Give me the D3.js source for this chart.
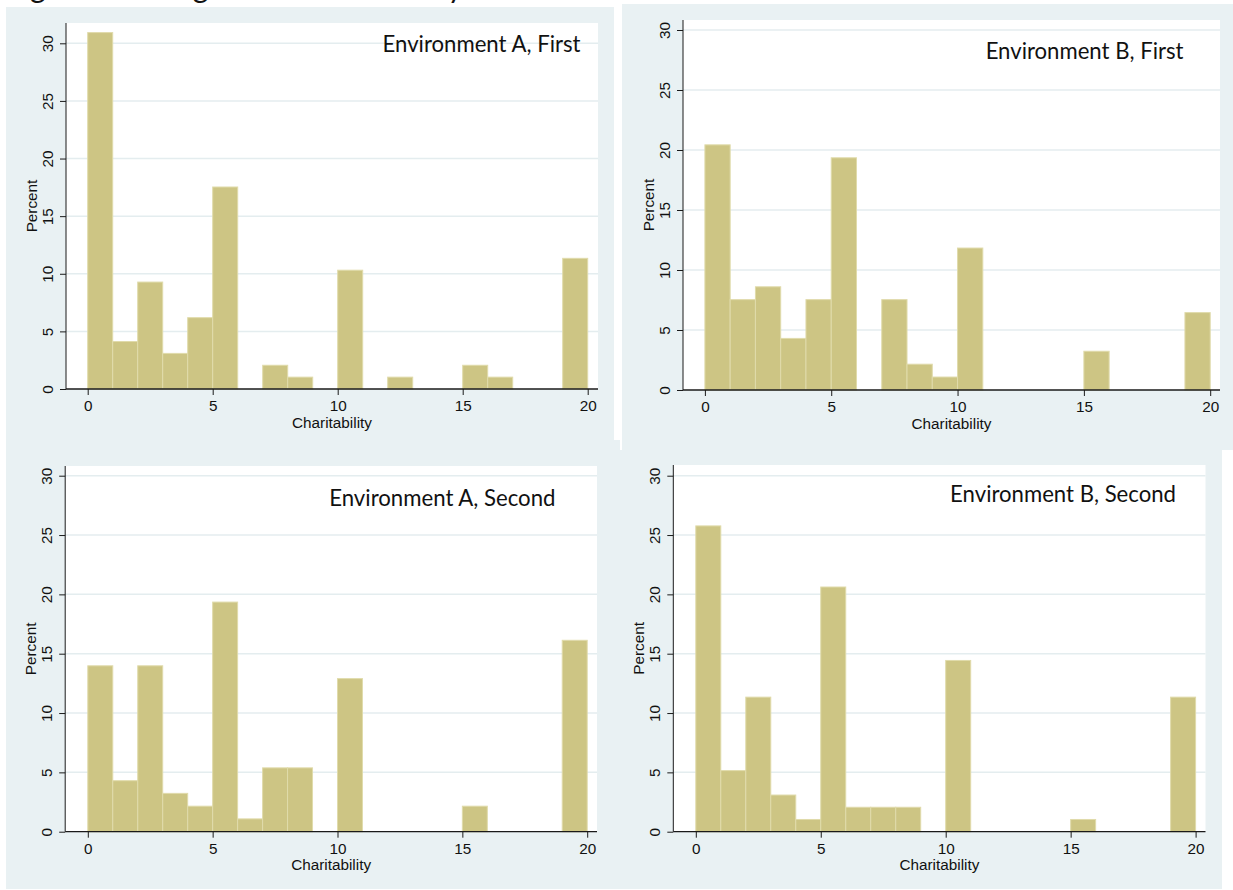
<!DOCTYPE html>
<html>
<head>
<meta charset="utf-8">
<script src="https://cdn.jsdelivr.net/npm/d3@7"></script>
<style>
  html, body { margin: 0; padding: 0; background: #ffffff; }
  svg { display: block; }
</style>
</head>
<body>
<svg id="chart" width="1233" height="890"></svg>
<script>
// Histogram bins: left edges of the unit-width charitability bins (0–20)
const binStarts = [0, 1, 2, 3, 4, 5, 6, 7, 8, 9, 10, 11, 12, 13, 14, 15, 16, 17, 18, 19];

// Percent of subjects in each bin
const envAFirst  = [30.93, 4.12, 9.28, 3.09, 6.19, 17.53, 0, 2.06, 1.03, 0, 10.31, 0, 1.03, 0, 0, 2.06, 1.03, 0, 0, 11.34];
const envBFirst  = [20.43, 7.53, 8.60, 4.30, 7.53, 19.35, 0, 7.53, 2.15, 1.08, 11.83, 0, 0, 0, 0, 3.23, 0, 0, 0, 6.45];
const envASecond = [13.98, 4.30, 13.98, 3.23, 2.15, 19.35, 1.08, 5.38, 5.38, 0, 12.90, 0, 0, 0, 0, 2.15, 0, 0, 0, 16.13];
const envBSecond = [25.77, 5.15, 11.34, 3.09, 1.03, 20.62, 2.06, 2.06, 2.06, 0, 14.43, 0, 0, 0, 0, 1.03, 0, 0, 0, 11.34];

const panelTitles = ["Environment A, First", "Environment B, First", "Environment A, Second", "Environment B, Second"];
const xTicks = [0, 5, 10, 15, 20];
const yTicks = [0, 5, 10, 15, 20, 25, 30];
const xLabel = "Charitability";
const yLabel = "Percent";
const figureCaption = "Figure 2: Histograms of Charitability";

// Frame geometry of each graph: background box, plot region, where the
// axis scales map their domain ends, and the box the title is fitted into.
const panels = [
  { values: envAFirst,  title: panelTitles[0],
    bg: [6, 7, 614, 450],  plot: [66, 23, 598, 389],
    xr: [87.7, 587.7],  yr: [389, 43.3],
    titleLeft: 382.5, titleRight: 580.5, titleBase: 52 },
  { values: envBFirst,  title: panelTitles[1],
    bg: [622, 4, 1233, 450], plot: [683, 20, 1220, 390],
    xr: [704.9, 1210.2], yr: [390, 30],
    titleLeft: 985.5, titleRight: 1183.5, titleBase: 59 },
  { values: envASecond, title: panelTitles[2],
    bg: [6, 440, 620, 889], plot: [65.2, 466, 597, 831.7],
    xr: [87.8, 587.2],  yr: [831.7, 475.7],
    titleLeft: 329, titleRight: 555.5, titleBase: 506 },
  { values: envBSecond, title: panelTitles[3],
    bg: [614, 450, 1222, 889], plot: [673.3, 465, 1205.5, 831.7],
    xr: [695.8, 1195.6], yr: [831.7, 475.7],
    titleLeft: 950, titleRight: 1176, titleBase: 502 }
];

const COLORS = {
  region: "#e9f1f3",
  plot: "#ffffff",
  grid: "#e4edef",
  bar: "#cdc584",
  barEdge: "#e0dbab",
  axis: "#1a1a1a",
  text: "#111111"
};
const tickFont = "'Liberation Sans', Arial, sans-serif";
const titleFont = "Lato, 'Open Sans', sans-serif";

const svg = d3.select("#chart");

// Figure caption running off the top edge of the page
svg.append("text")
  .attr("x", 7).attr("y", -2)
  .attr("font-family", titleFont)
  .attr("font-size", 30)
  .attr("fill", COLORS.text)
  .attr("textLength", 456)
  .attr("lengthAdjust", "spacing")
  .text(figureCaption);

// Graph region backgrounds first so the boxes overlap cleanly
panels.forEach(p => {
  svg.append("rect")
    .attr("x", p.bg[0]).attr("y", p.bg[1])
    .attr("width", p.bg[2] - p.bg[0]).attr("height", p.bg[3] - p.bg[1])
    .attr("fill", COLORS.region);
});

panels.forEach(p => {
  const g = svg.append("g");
  const [px0, py0, px1, py1] = p.plot;

  const x = d3.scaleLinear().domain([0, 20]).range(p.xr);
  const y = d3.scaleLinear().domain([0, 30]).range(p.yr);

  // White plot region
  g.append("rect")
    .attr("x", px0).attr("y", py0)
    .attr("width", px1 - px0).attr("height", py1 - py0)
    .attr("fill", COLORS.plot);

  // Horizontal grid lines
  g.append("g").selectAll("line")
    .data(yTicks.filter(t => t > 0))
    .join("line")
    .attr("x1", px0).attr("x2", px1)
    .attr("y1", d => y(d)).attr("y2", d => y(d))
    .attr("stroke", COLORS.grid)
    .attr("stroke-width", 1.5);

  // Histogram bars
  const bins = binStarts.map((b, i) => ({ start: b, value: p.values[i] }))
    .filter(d => d.value > 0);
  g.append("g").selectAll("rect")
    .data(bins)
    .join("rect")
    .attr("x", d => x(d.start))
    .attr("width", d => x(d.start + 1) - x(d.start))
    .attr("y", d => y(d.value))
    .attr("height", d => y(0) - y(d.value))
    .attr("fill", COLORS.bar)
    .attr("stroke", COLORS.barEdge)
    .attr("stroke-width", 1);

  // Y axis
  const yAxis = g.append("g")
    .attr("transform", `translate(${px0},0)`)
    .call(d3.axisLeft(y).tickValues(yTicks).tickSize(6).tickSizeOuter(0));
  yAxis.select(".domain").remove();
  yAxis.selectAll(".tick line").attr("stroke", COLORS.axis);
  yAxis.selectAll(".tick text")
    .attr("x", null).attr("dy", null)
    .attr("transform", "translate(-13,0) rotate(-90)")
    .attr("text-anchor", "middle")
    .attr("font-family", tickFont)
    .attr("font-size", 15.3)
    .attr("fill", COLORS.text);
  g.append("line")
    .attr("x1", px0).attr("x2", px0)
    .attr("y1", py0).attr("y2", py1)
    .attr("stroke", COLORS.axis).attr("stroke-width", 1);

  // X axis
  const xAxis = g.append("g")
    .attr("transform", `translate(0,${py1})`)
    .call(d3.axisBottom(x).tickValues(xTicks).tickSize(6).tickSizeOuter(0));
  xAxis.select(".domain").remove();
  xAxis.selectAll(".tick line").attr("stroke", COLORS.axis);
  xAxis.selectAll(".tick text")
    .attr("y", 22).attr("dy", null)
    .attr("font-family", tickFont)
    .attr("font-size", 15.3)
    .attr("fill", COLORS.text);
  g.append("line")
    .attr("x1", px0).attr("x2", px1)
    .attr("y1", py1).attr("y2", py1)
    .attr("stroke", COLORS.axis).attr("stroke-width", 1.3);

  // Axis titles
  g.append("text")
    .attr("x", (px0 + px1) / 2).attr("y", py1 + 38.5)
    .attr("text-anchor", "middle")
    .attr("font-family", tickFont)
    .attr("font-size", 15.3)
    .attr("fill", COLORS.text)
    .text(xLabel);
  g.append("text")
    .attr("transform", `translate(${px0 - 29},${(py0 + py1) / 2}) rotate(-90)`)
    .attr("text-anchor", "middle")
    .attr("font-family", tickFont)
    .attr("font-size", 15.3)
    .attr("fill", COLORS.text)
    .text(yLabel);

  // Panel title, sized to fill its text box
  const title = g.append("text")
    .attr("x", p.titleRight).attr("y", p.titleBase)
    .attr("text-anchor", "end")
    .attr("font-family", titleFont)
    .attr("font-size", 24)
    .attr("fill", COLORS.text)
    .text(p.title);
  const measured = title.node().getComputedTextLength();
  if (measured > 0) {
    title.attr("font-size", 24 * (p.titleRight - p.titleLeft) / measured);
  }
});
</script>
</body>
</html>
